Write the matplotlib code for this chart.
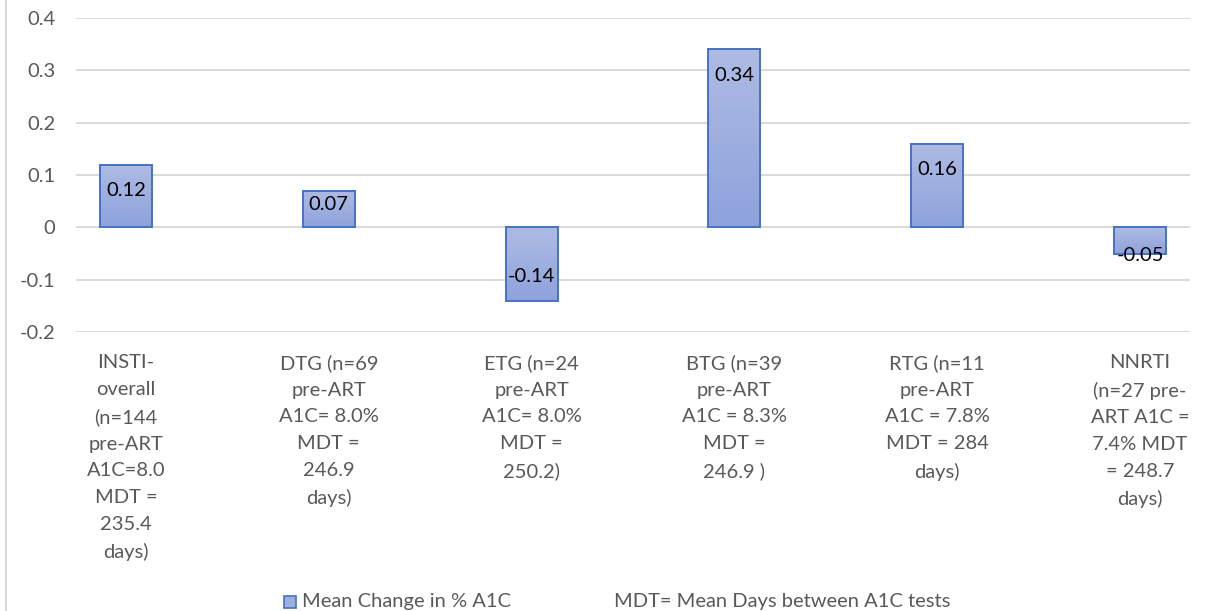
import matplotlib
matplotlib.use("Agg")
import matplotlib.pyplot as plt
import numpy as np
from matplotlib.lines import Line2D
from matplotlib.patches import Rectangle
from matplotlib.colors import LinearSegmentedColormap

categories = [
    "INSTI-\noverall\n(n=144\npre-ART\nA1C=8.0\nMDT =\n235.4\ndays)",
    "DTG (n=69\npre-ART\nA1C= 8.0%\nMDT =\n246.9\ndays)",
    "ETG (n=24\npre-ART\nA1C= 8.0%\nMDT =\n250.2)",
    "BTG (n=39\npre-ART\nA1C = 8.3%\nMDT =\n246.9 )",
    "RTG (n=11\npre-ART\nA1C = 7.8%\nMDT = 284\ndays)",
    "NNRTI\n(n=27 pre-\nART A1C =\n7.4% MDT\n= 248.7\ndays)",
]
values = [0.12, 0.07, -0.14, 0.34, 0.16, -0.05]
value_labels = ["0.12", "0.07", "-0.14", "0.34", "0.16", "-0.05"]
yticks = [-0.2, -0.1, 0, 0.1, 0.2, 0.3, 0.4]
ytick_labels = ["-0.2", "-0.1", "0", "0.1", "0.2", "0.3", "0.4"]
legend_series = "Mean Change in % A1C"
legend_note = "MDT= Mean Days between A1C tests"

# label offsets (pixels from bar end toward the baseline)
label_offsets = [26, 14, 24, 26, 26, -2]

FONT = "Lato"
FS = 14.5
GRAY = "#595959"
EDGE = "#4472C4"
cmap = LinearSegmentedColormap.from_list("g", ["#AEBBE3", "#8EA2DC"])

W, H = 1209, 611
fig = plt.figure(figsize=(W / 100, H / 100), dpi=100)
ax_l, ax_r, ax_t, ax_b = 76, 1190, 18, 332
ax = fig.add_axes([ax_l / W, 1 - ax_b / H, (ax_r - ax_l) / W, (ax_b - ax_t) / H])

x = np.arange(len(values))

for t in yticks:
    ax.axhline(t, color="#D9D9D9", lw=1.4, zorder=0)

bw = 0.256
bars = ax.bar(x, values, width=bw, color="none", edgecolor=EDGE, linewidth=1.4, zorder=3)
grad = np.linspace(0, 1, 256).reshape(-1, 1)
for b, v in zip(bars, values):
    x0 = b.get_x()
    y0, y1 = (0, v) if v > 0 else (v, 0)
    im = ax.imshow(grad, cmap=cmap, aspect="auto", origin="upper",
                   extent=[x0, x0 + bw, y0, y1], zorder=2)
    im.set_clip_path(b)
ax.set_xlim(-0.2465, len(values) - 1 + 0.2465)
ax.set_ylim(-0.2, 0.4)

for xi, v, lab, off in zip(x, values, value_labels, label_offsets):
    dy = -off if v > 0 else off
    ax.annotate(lab, (xi, v), xytext=(0, dy), textcoords="offset pixels",
                ha="center", va="center", fontsize=FS, family=FONT,
                color="black", zorder=5)

ax.set_yticks(yticks)
ax.set_yticklabels(ytick_labels)
ax.set_xticks(x)
ax.set_xticklabels(categories, linespacing=1.69)
ax.tick_params(axis="y", length=0, pad=15, labelsize=FS, labelcolor=GRAY)
ax.tick_params(axis="x", length=0, pad=16, labelsize=FS, labelcolor=GRAY)
for lab in ax.get_xticklabels() + ax.get_yticklabels():
    lab.set_family(FONT)
for s in ax.spines.values():
    s.set_visible(False)

# left chart border
fig.add_artist(Line2D([6 / W, 6 / W], [0, 1], color="#D9D9D9", lw=1.5))

# legend
sq = Rectangle((284 / W, 1 - 608 / H), 12 / W, 12 / H, transform=fig.transFigure,
               facecolor="#9DAEE0", edgecolor=EDGE, lw=1.2)
fig.add_artist(sq)
fig.text(302 / W, 1 - 602 / H, legend_series, ha="left", va="center",
         fontsize=FS, family=FONT, color=GRAY)
fig.text(614 / W, 1 - 602 / H, legend_note, ha="left", va="center",
         fontsize=FS, family=FONT, color=GRAY)

fig.savefig("out.png", dpi=100)
